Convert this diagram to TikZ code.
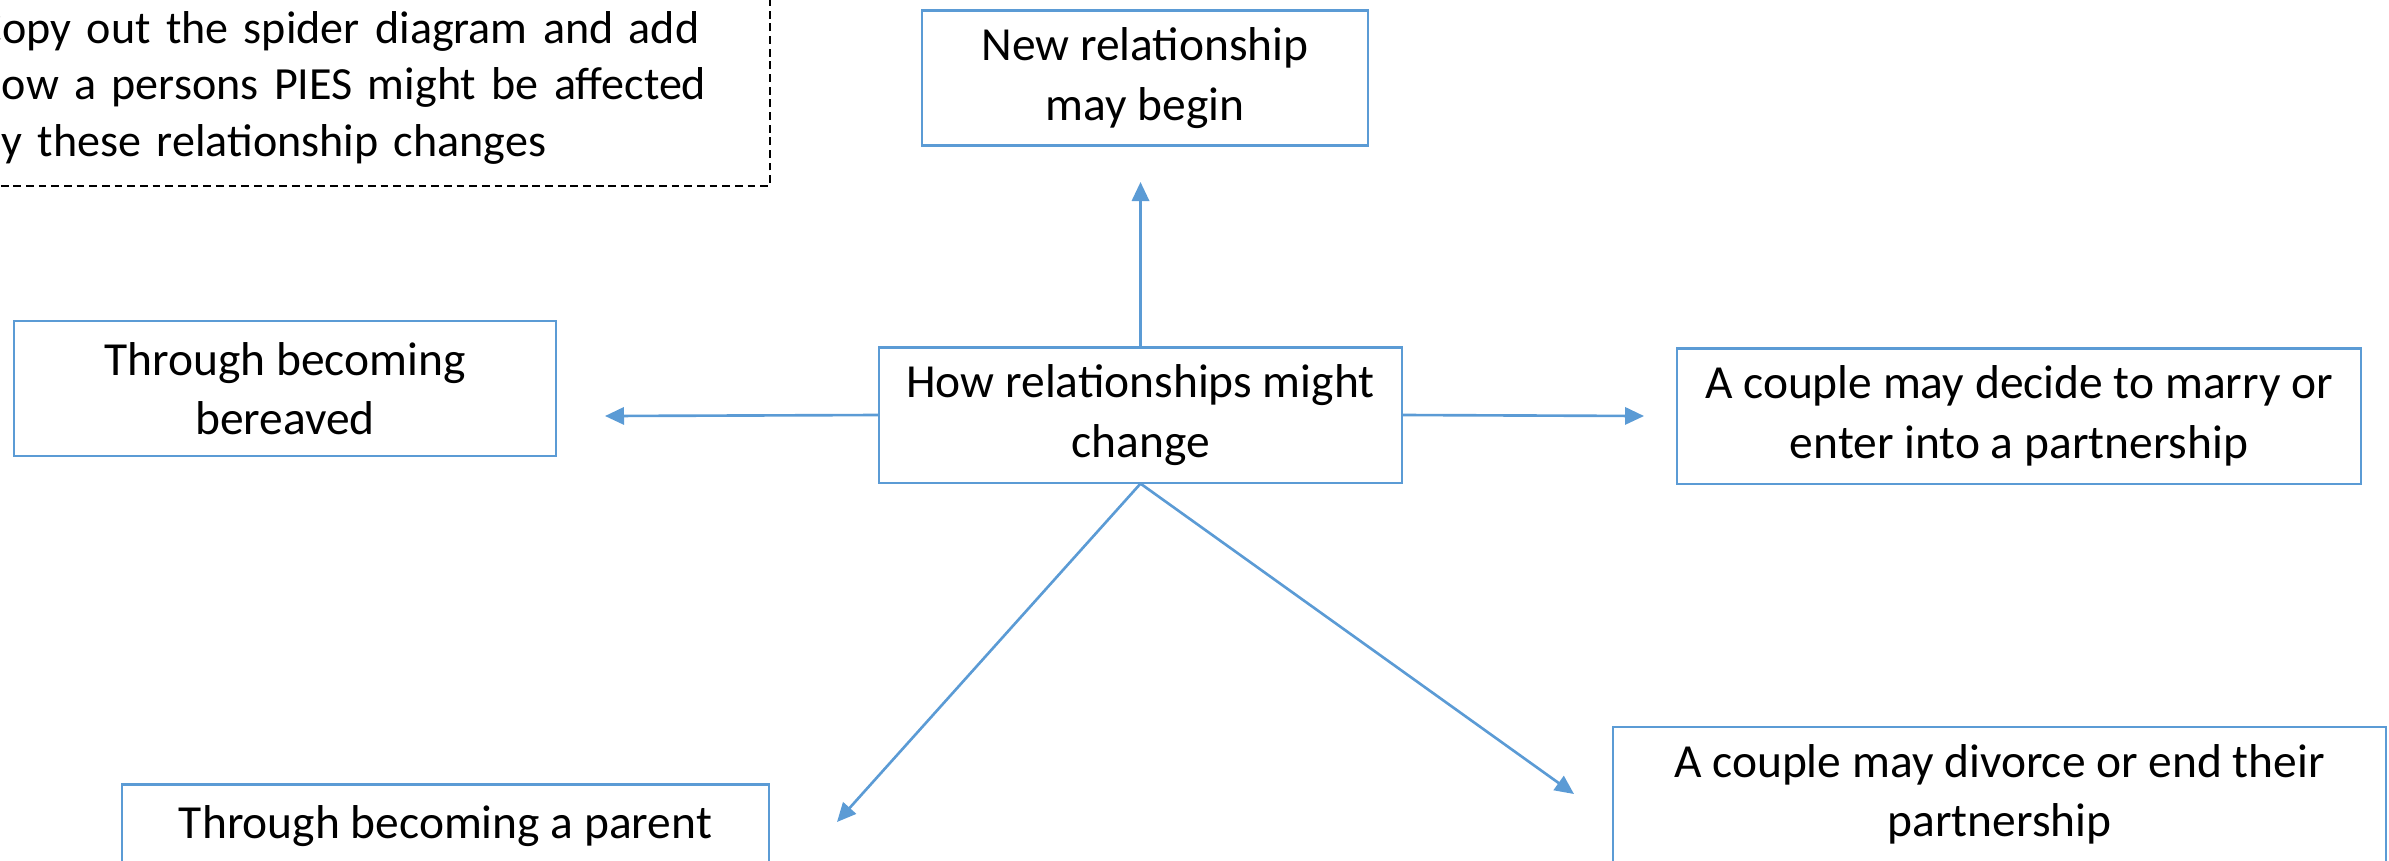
\documentclass[tikz,border=0pt]{standalone}
\usepackage{fontspec}
\setmainfont{Carlito}
\usepackage{tikz}
\usepackage{xcolor}
\usetikzlibrary{arrows.meta}
\definecolor{spiderblue}{RGB}{91,155,213}

\begin{document}
\begin{tikzpicture}[x=0.01cm,y=-0.01cm,
  box/.style={draw=spiderblue,line width=0.6pt,fill=white,align=center,inner sep=0pt,
    minimum height=1.35cm,font=\fontsize{13.5}{16.9}\selectfont},
  link/.style={draw=spiderblue,line width=0.75pt,-{Triangle[length=5.4pt,width=4.9pt]}}]
  \useasboundingbox (0,0) rectangle (2389,860);
  \clip (0,0) rectangle (2389,860);
  \node[draw,dash pattern=on 2.2pt off 1.4pt,line width=0.45pt,anchor=north west,align=left,
    text width=7.77cm,inner sep=0.15cm,minimum height=1.96cm,font=\fontsize{13.1}{16.0}\selectfont] (task) at (-38,-11)
  {Copy out the spider diagram and add\\how a persons PIES might be affected\\by these relationship changes};
  \node[box,minimum width=4.46cm] (newrel) at (1145,78) {New relationship\\may begin};
  \node[box,minimum width=5.23cm] (hub) at (1140.5,415) {How relationships might\\change};
  \node[box,minimum width=5.42cm] (bereaved) at (285,388.5) {Through becoming\\bereaved};
  \node[box,minimum width=6.83cm] (marry) at (2019,416) {A couple may decide to marry or\\enter into a partnership};
  \node[box,minimum width=6.47cm] (parent) at (445.5,852) {Through becoming a parent\\\mbox{}};
  \node[box,minimum width=7.73cm] (divorce) at (1999.5,794.5) {A couple may divorce or end their\\partnership};
  \coordinate (tipN) at (1140.5,182);
  \coordinate (tipW) at (605,416);
  \coordinate (tipE) at (1644,416);
  \coordinate (tipSW) at (837,822);
  \coordinate (tipSE) at (1574,794);
  \draw[link] (hub.north) -- (tipN);
  \draw[link] (hub.west) -- (tipW);
  \draw[link] (hub.east) -- (tipE);
  \draw[link] (hub.south) -- (tipSW);
  \draw[link] (hub.south) -- (tipSE);
\end{tikzpicture}
\end{document}
